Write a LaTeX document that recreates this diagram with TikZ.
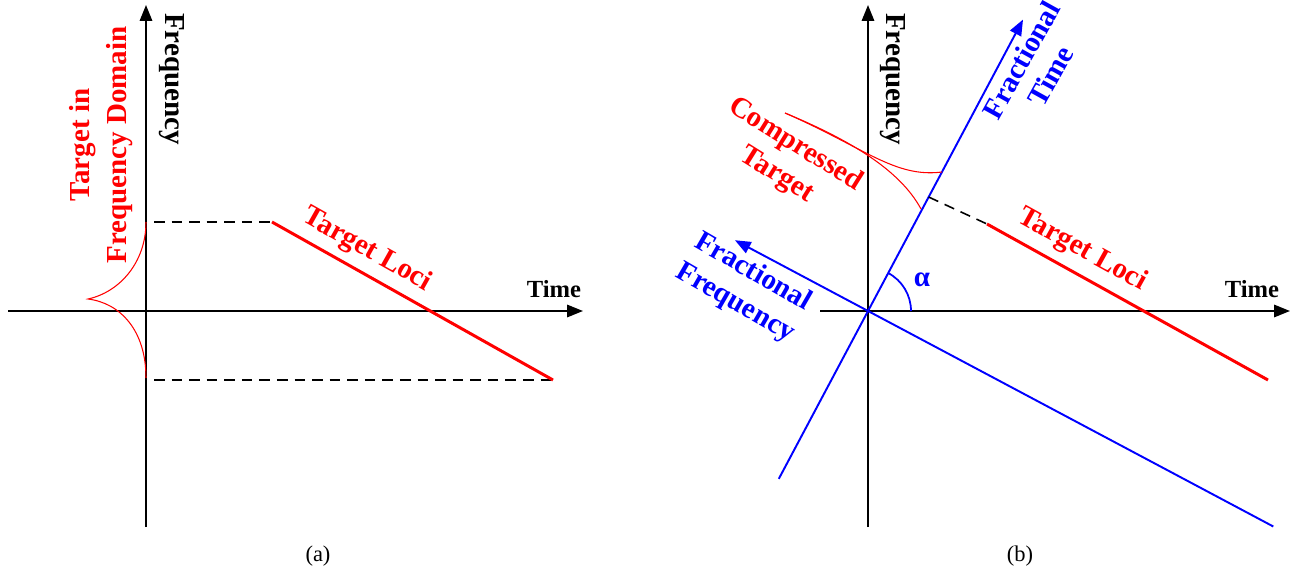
\documentclass[tikz,border=0pt]{standalone}
\usepackage{fontspec}
\setmainfont{Liberation Serif}
\usetikzlibrary{arrows.meta,positioning}

\begin{document}
\begin{tikzpicture}[x=0.02cm, y=0.02cm,
  every node/.style={font=\fontsize{16.5}{19}\selectfont\bfseries, inner sep=0pt},
  axis/.style={line width=1.1pt, -{Triangle[length=9pt,width=7pt]}},
  faxis/.style={blue, line width=1.1pt, -{Triangle[length=9pt,width=7pt]}},
  locus/.style={red, line width=1.7pt},
  guide/.style={line width=0.9pt, dash pattern=on 6pt off 4pt},
  lobe/.style={red, line width=0.6pt},
  caption/.style={font=\fontsize{12.8}{14}\selectfont}]
  \useasboundingbox (0,0) rectangle (1305,-578);
  % (a)
  \coordinate (a-w) at (8,-311);   \coordinate (a-e) at (583,-311);
  \coordinate (a-s) at (146,-527); \coordinate (a-n) at (146,-5);
  \draw[axis] (a-w) -- (a-e);
  \draw[axis] (a-s) -- (a-n);
  \coordinate (a-l1) at (272,-222); \coordinate (a-l2) at (553,-380);
  \coordinate (a-d1) at (154,-222); \coordinate (a-d2) at (154,-380);
  \draw[guide] (a-d1) -- (a-l1);
  \draw[guide] (a-d2) -- (a-l2);
  \draw[locus] (a-l1) -- (a-l2);
  \coordinate (a-tip) at (88,-299);
  \draw[lobe] (146,-222) .. controls (146,-262) and (120,-292) .. (a-tip)
    .. controls (120,-303) and (146,-330) .. (146,-378);
  \node[rotate=-90] (a-freq) at (172,-79) {Frequency};
  \node[font=\fontsize{14}{16}\selectfont\bfseries] (a-time) at (554,-289) {Time};
  \node[red, rotate=-29.4] (a-loci) at (367,-250) {Target Loci};
  \node[red, rotate=90, align=center, font=\fontsize{16.5}{21.5}\selectfont\bfseries]
    (a-dom) at (101,-145) {Target in\\Frequency Domain};
  \node[caption] (a-cap) at (318,-556) {(a)};
  % (b)
  \coordinate (b-o) at (868,-311);
  \coordinate (b-w) at (820,-311);  \coordinate (b-e) at (1290,-311);
  \coordinate (b-s) at (868,-527); \coordinate (b-n) at (868,-5);
  \draw[axis] (b-w) -- (b-e);
  \draw[axis] (b-s) -- (b-n);
  \coordinate (b-t1) at (778.8,-478.8); \coordinate (b-t2) at (1023,-19.6);
  \coordinate (b-f1) at (1273.3,-526.5); \coordinate (b-f2) at (734.9,-240.2);
  \draw[faxis] (b-t1) -- (b-t2);
  \draw[faxis] (b-f1) -- (b-f2);
  \draw[blue, line width=1pt] (911,-311) arc[start angle=0, end angle=62, radius=43];
  \node[blue] (b-alpha) at (922,-280) {α};
  \coordinate (b-d1) at (928.6,-197); \coordinate (b-l1) at (987,-224);
  \coordinate (b-l2) at (1268,-380);
  \draw[guide] (b-d1) -- (b-l1);
  \draw[locus] (b-l1) -- (b-l2);
  \coordinate (b-tip) at (785,-113);
  \draw[lobe] (b-tip) .. controls (865,-148) and (895,-178) .. (942,-172);
  \draw[lobe] (b-tip) .. controls (850,-140) and (900,-170) .. (921,-209);
  \node[rotate=-90] (b-freq) at (893,-79) {Frequency};
  \node[font=\fontsize{14}{16}\selectfont\bfseries] (b-time) at (1252,-289) {Time};
  \node[red, rotate=-29] (b-loci) at (1082,-250) {Target Loci};
  \node[blue, rotate=61, align=center] (b-ftime) at (1036,-68) {Fractional\\Time};
  \node[blue, rotate=-30, align=center, font=\fontsize{16.5}{20}\selectfont\bfseries]
    (b-ffreq) at (744,-288) {Fractional\\Frequency};
  \node[red, rotate=-32, align=center, font=\fontsize{16.5}{20}\selectfont\bfseries]
    (b-comp) at (786,-160) {Compressed\\Target};
  \node[caption] (b-cap) at (1020,-556) {(b)};
\end{tikzpicture}
\end{document}
